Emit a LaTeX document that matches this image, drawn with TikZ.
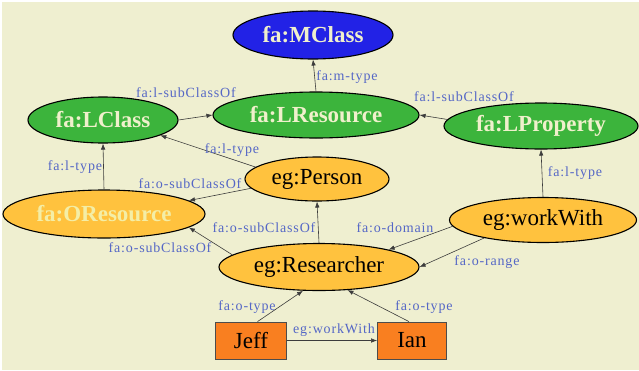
\documentclass[tikz,border=0pt]{standalone}
\usepackage{fontspec}
\setmainfont{Liberation Serif}
\newfontfamily\lblfont[LetterSpace=6]{Liberation Serif}
\usetikzlibrary{shapes.geometric,arrows.meta}
\definecolor{bgcol}{HTML}{EFEFD0}
\definecolor{metablue}{HTML}{2222E6}
\definecolor{lgreen}{HTML}{3CB43C}
\definecolor{oyellow}{HTML}{FFC23E}
\definecolor{iorange}{HTML}{F97F20}
\definecolor{lblcol}{HTML}{5567C6}
\definecolor{paletext}{HTML}{F0F0CC}
\definecolor{yelltext}{HTML}{F4EEA6}
\definecolor{edgecol}{HTML}{3C3C3C}
\newcommand\nodefont{\fontsize{23}{25}\selectfont}
\tikzset{
  oval/.style={ellipse, draw=black, line width=1.1pt, inner sep=0pt, font=\nodefont},
  metaoval/.style={oval, fill=metablue, text=paletext, font=\nodefont\bfseries},
  lang/.style={oval, fill=lgreen, text=paletext, font=\nodefont\bfseries},
  ontol/.style={oval, fill=oyellow, text=black},
  inst/.style={rectangle, draw=black!70, line width=0.8pt, fill=iorange, inner sep=0pt,
    minimum width=71pt, minimum height=37pt, font=\nodefont},
  rel/.style={draw=edgecol, line width=0.6pt, -{Latex[length=6pt,width=4.5pt]}},
  lbl/.style={text=lblcol, inner sep=0pt, font=\lblfont\fontsize{14}{16}\selectfont}
}
\begin{document}
\begin{tikzpicture}[x=1pt,y=-1pt]
\useasboundingbox (0,0) rectangle (639,370);
\fill[white] (0,0) rectangle (639,370);
\fill[bgcol] (2,2) rectangle (639,370);

% meta level
\node[metaoval, minimum width=160pt, minimum height=48pt] (mclass) at (313,35) {fa:MClass};

% language level
\node[lang, minimum width=150pt, minimum height=46pt] (lclass) at (103,120) {fa:LClass};
\node[lang, minimum width=206pt, minimum height=46pt] (lres) at (316,115) {fa:LResource};
\node[lang, minimum width=194pt, minimum height=46pt] (lprop) at (541,126) {fa:LProperty};

% ontology level
\node[ontol, minimum width=144pt, minimum height=44pt] (person) at (317,179) {eg:Person};
\node[ontol, minimum width=202pt, minimum height=48pt, text=yelltext,
      font=\nodefont\bfseries] (ores) at (104,214) {fa:OResource};
\node[ontol, minimum width=200pt, minimum height=47pt] (res) at (319,267) {eg:Researcher};
\node[ontol, minimum width=187pt, minimum height=45pt] (ww) at (543,220) {eg:workWith};

% instances
\node[inst] (jeff) at (251,340.5) {Jeff};
\node[inst, minimum width=69pt] (ian) at (412,340.5) {Ian};

% relations
\draw[rel] (lres.north) -- (mclass.south);
\draw[rel] (lclass.east) -- (lres.west);
\draw[rel] (lprop.176) -- (lres.east);
\draw[rel] (person.169) -- (lclass.-15);
\draw[rel] (ores.north) -- (lclass.south);
\draw[rel] (person.188) -- (ores.9);
\draw[rel] (res.172) -- (ores.-9);
\draw[rel] (res.north) -- (person.south);
\draw[rel] (ww.184) -- (res.14);
\draw[rel] (ww.197) -- (res.east);
\draw[rel] (ww.north) -- (lprop.south);
\draw[rel] (jeff.71) -- (res.-124);
\draw[rel] (ian.99) -- (res.-39);
\draw[rel] (jeff.east) -- (ian.west);

% relation labels
\node[lbl] (l1) at (347,77) {fa:m-type};
\node[lbl] (l2) at (186,93) {fa:l-subClassOf};
\node[lbl] (l3) at (464,97) {fa:l-subClassOf};
\node[lbl] (l4) at (232,150) {fa:l-type};
\node[lbl] (l5) at (75,167) {fa:l-type};
\node[lbl] (l6) at (190,184) {fa:o-subClassOf};
\node[lbl] (l7) at (264,228) {fa:o-subClassOf};
\node[lbl] (l8) at (160,248) {fa:o-subClassOf};
\node[lbl] (l9) at (395,228) {fa:o-domain};
\node[lbl] (l10) at (487,262) {fa:o-range};
\node[lbl] (l11) at (575,173) {fa:l-type};
\node[lbl] (l12) at (247,307) {fa:o-type};
\node[lbl] (l13) at (424,307) {fa:o-type};
\node[lbl] (l14) at (334,330) {eg:workWith};
\end{tikzpicture}
\end{document}
